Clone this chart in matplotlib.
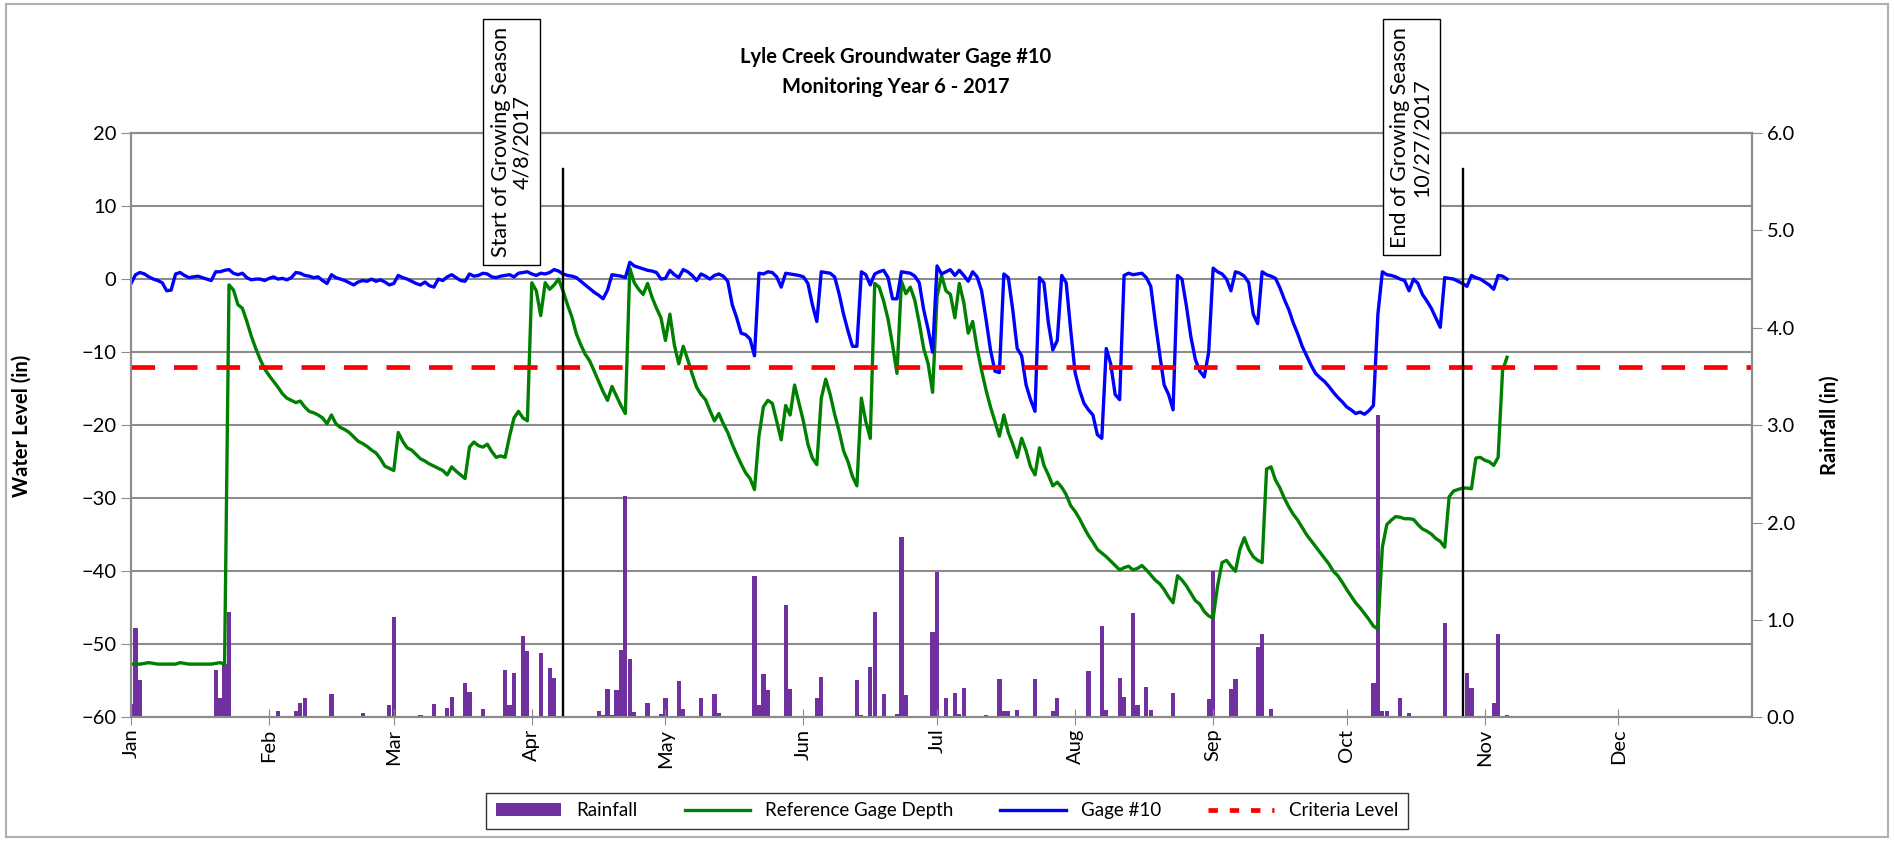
import pandas as pd
import matplotlib
matplotlib.use("Agg")
import matplotlib.pyplot as plt
import matplotlib.dates as mdates
from matplotlib.patches import Patch, Rectangle
from matplotlib.lines import Line2D

plt.rcParams['font.family'] = ['Lato', 'DejaVu Sans']

# daily readings starting 1 Jan 2017 (inches)
start = '2017-01-01'
ref_depth = [
    -52.7, -52.7, -52.7, -52.6, -52.5, -52.6, -52.7, -52.7, -52.7, -52.7,
    -52.7, -52.5, -52.6, -52.7, -52.7, -52.7, -52.7, -52.7, -52.7, -52.6,
    -52.5, -52.7, -0.8, -1.5, -3.5, -4.0, -5.8, -7.8, -9.5, -11.0,
    -12.3, -13.2, -14.0, -14.8, -15.7, -16.3, -16.6, -16.9, -16.7, -17.5,
    -18.1, -18.3, -18.6, -19.0, -19.8, -18.6, -19.8, -20.3, -20.6, -21.0,
    -21.6, -22.2, -22.5, -22.9, -23.4, -23.8, -24.6, -25.6, -25.9, -26.2,
    -21.0, -22.2, -23.1, -23.4, -24.0, -24.6, -24.9, -25.3, -25.6, -25.9,
    -26.2, -26.8, -25.7, -26.3, -26.8, -27.3, -23.0, -22.3, -22.8, -23.0,
    -22.6, -23.6, -24.4, -24.2, -24.4, -21.5, -19.0, -18.1, -19.0, -19.4,
    -0.5, -1.6, -5.0, -0.5, -1.4, -0.8, 0.0, -1.6, -3.5, -5.2,
    -7.5, -9.0, -10.3, -11.2, -12.6, -14.0, -15.4, -16.6, -14.7, -16.0,
    -17.3, -18.4, 1.5, -0.5, -1.4, -2.1, -0.6, -2.5, -4.0, -5.3,
    -8.4, -4.8, -9.0, -11.6, -9.2, -11.0, -13.0, -14.8, -15.8, -16.5,
    -18.0, -19.4, -18.4, -19.8, -21.0, -22.6, -24.0, -25.3, -26.5, -27.3,
    -28.8, -21.5, -17.5, -16.6, -17.0, -19.5, -22.0, -17.3, -18.6, -14.5,
    -17.0, -19.5, -22.6, -24.5, -25.4, -16.3, -13.7, -15.8, -18.5, -20.8,
    -23.5, -25.0, -27.0, -28.3, -16.3, -19.5, -21.8, -0.6, -1.1, -3.0,
    -5.5, -9.0, -12.9, -0.3, -2.0, -1.1, -2.9, -6.0, -9.5, -11.6,
    -15.5, -2.4, 0.5, -1.6, -2.1, -5.3, -0.6, -3.2, -7.4, -5.8,
    -9.5, -12.5, -15.2, -17.5, -19.5, -21.5, -18.6, -21.0, -22.6, -24.4,
    -21.8, -23.5, -25.7, -26.8, -23.1, -25.5, -26.8, -28.3, -27.8, -28.5,
    -29.5, -31.0, -31.8, -32.8, -34.0, -35.1, -36.0, -37.0, -37.5, -38.0,
    -38.6, -39.2, -39.8, -39.5, -39.3, -39.8, -39.6, -39.2, -39.8, -40.5,
    -41.2, -41.7, -42.5, -43.5, -44.3, -40.6, -41.2, -42.0, -43.0, -44.0,
    -44.5, -45.5, -46.1, -46.4, -42.0, -38.8, -38.5, -39.3, -40.0, -37.0,
    -35.4, -37.0, -38.0, -38.5, -38.8, -26.0, -25.7, -27.5, -28.6, -30.0,
    -31.2, -32.2, -33.0, -34.0, -35.0, -35.8, -36.6, -37.4, -38.2, -39.0,
    -40.0, -40.6, -41.5, -42.5, -43.4, -44.3, -45.0, -45.8, -46.6, -47.5,
    -47.9, -36.7, -33.6, -33.0, -32.5, -32.6, -32.8, -32.8, -32.9, -33.6,
    -34.2, -34.5, -34.9, -35.5, -35.9, -36.7, -29.8, -29.0, -28.8, -28.6,
    -28.6, -28.7, -24.5, -24.4, -24.8, -25.0, -25.5, -24.4, -12.5, -10.7,
]
gage10 = [
    -0.6, 0.6, 0.9, 0.7, 0.3, 0.0, -0.2, -0.5, -1.6, -1.5,
    0.7, 0.9, 0.5, 0.2, 0.3, 0.4, 0.2, 0.0, -0.2, 1.0,
    1.0, 1.2, 1.3, 0.8, 0.6, 0.8, 0.2, -0.1, 0.0, 0.0,
    -0.2, 0.1, 0.3, 0.0, 0.1, -0.1, 0.2, 0.9, 0.8, 0.5,
    0.4, 0.2, 0.3, -0.2, -0.6, 0.6, 0.2, 0.0, -0.2, -0.5,
    -0.8, -0.4, -0.2, -0.3, 0.0, -0.3, -0.1, -0.4, -0.8, -0.6,
    0.5, 0.2, 0.0, -0.3, -0.6, -0.8, -0.4, -0.9, -1.1, 0.0,
    -0.2, 0.3, 0.6, 0.2, -0.2, -0.3, 0.7, 0.4, 0.5, 0.8,
    0.7, 0.3, 0.2, 0.4, 0.5, 0.6, 0.3, 0.8, 0.9, 1.0,
    0.7, 0.5, 0.8, 0.7, 0.9, 1.3, 1.1, 0.7, 0.5, 0.4,
    0.2, -0.3, -0.8, -1.3, -1.8, -2.2, -2.7, -1.5, 0.6, 0.5,
    0.4, 0.2, 2.3, 1.8, 1.6, 1.4, 1.2, 1.1, 0.9, 0.0,
    0.1, 1.2, 0.6, 0.2, 1.3, 1.0, 0.5, -0.2, 0.7, 0.4,
    0.0, 0.5, 0.7, 0.4, -0.3, -3.5, -5.3, -7.4, -7.6, -8.2,
    -10.5, 0.8, 0.7, 1.0, 0.9, 0.3, -1.1, 0.8, 0.7, 0.6,
    0.5, 0.3, -0.6, -3.5, -5.8, 1.0, 0.9, 0.8, 0.3, -2.0,
    -4.8, -7.1, -9.2, -9.2, 1.0, 0.6, -0.8, 0.7, 1.0, 1.2,
    0.2, -2.7, -2.7, 1.0, 0.9, 0.8, 0.4, -0.5, -4.2, -6.9,
    -10.0, 1.8, 0.7, 1.0, 1.3, 0.5, 1.2, 0.5, -0.3, 1.0,
    0.3, -1.6, -5.5, -9.7, -12.6, -12.8, 0.7, 0.2, -4.2, -9.5,
    -10.5, -14.5, -16.5, -18.1, 0.2, -0.5, -6.0, -9.7, -8.4, 0.5,
    -0.5, -6.9, -12.8, -15.2, -17.0, -17.9, -18.6, -21.3, -21.8, -9.5,
    -11.6, -15.8, -16.5, 0.5, 0.8, 0.6, 0.7, 0.8, 0.2, -1.0,
    -5.8, -10.3, -14.5, -15.8, -17.9, 0.5, 0.0, -3.7, -7.9, -11.0,
    -12.6, -13.4, -10.0, 1.5, 1.0, 0.7, 0.0, -1.6, 1.0, 0.8,
    0.4, -0.5, -4.8, -6.1, 1.0, 0.6, 0.4, 0.1, -1.2, -2.8,
    -4.2, -6.0, -7.5, -9.2, -10.5, -11.8, -12.9, -13.5, -14.0, -14.7,
    -15.5, -16.2, -16.8, -17.5, -17.9, -18.4, -18.2, -18.5, -18.0, -17.3,
    -4.8, 1.0, 0.6, 0.5, 0.3, 0.0, -0.2, -1.6, 0.0, -0.6,
    -2.1, -3.0, -4.0, -5.3, -6.6, 0.2, 0.1, 0.0, -0.3, -0.6,
    -1.0, 0.5, 0.2, 0.0, -0.4, -0.8, -1.4, 0.5, 0.4, 0.0,
]
# rainfall: day index from 1 Jan and depth (in)
rain_day = [0, 1, 2, 14, 19, 20, 21, 22, 33, 37, 38, 39, 45, 52, 58, 59, 65,
            68, 71, 72, 75, 76, 78, 79, 84, 85, 86, 88, 89, 92, 94, 95, 105,
            106, 107, 108, 109, 110, 111, 112, 113, 116, 119, 120, 123, 124,
            128, 131, 132, 140, 141, 142, 143, 147, 148, 149, 154, 155, 163,
            164, 166, 167, 169, 172, 173, 174, 180, 181, 183, 184, 185, 186,
            187, 192, 195, 196, 197, 199, 200, 203, 206, 207, 208, 215, 218,
            219, 222, 223, 225, 226, 228, 229, 234, 242, 243, 244, 247, 248,
            253, 254, 256, 270, 279, 280, 281, 282, 285, 287, 295, 300, 301,
            306, 307, 309]
rain_in = [0.14, 0.92, 0.38, 0.02, 0.49, 0.2, 0.55, 1.08, 0.07, 0.07, 0.15,
           0.2, 0.24, 0.05, 0.13, 1.03, 0.03, 0.14, 0.1, 0.21, 0.35, 0.26,
           0.02, 0.09, 0.49, 0.13, 0.46, 0.84, 0.68, 0.66, 0.51, 0.41, 0.07,
           0.03, 0.29, 0.03, 0.28, 0.69, 2.27, 0.6, 0.06, 0.15, 0.04, 0.2,
           0.37, 0.09, 0.2, 0.24, 0.05, 1.45, 0.13, 0.45, 0.28, 1.15, 0.29,
           0.02, 0.2, 0.42, 0.38, 0.03, 0.52, 1.08, 0.24, 0.04, 1.85, 0.23,
           0.88, 1.49, 0.2, 0.02, 0.25, 0.04, 0.3, 0.03, 0.39, 0.07, 0.07,
           0.08, 0.02, 0.39, 0.02, 0.07, 0.2, 0.48, 0.94, 0.08, 0.4, 0.21,
           1.07, 0.13, 0.31, 0.08, 0.25, 0.19, 1.5, 0.02, 0.29, 0.39, 0.72,
           0.86, 0.09, 0.02, 0.35, 3.1, 0.07, 0.07, 0.2, 0.05, 0.97, 0.46,
           0.3, 0.15, 0.86, 0.03]
criteria = -12
season_start = '2017-04-08'
season_end = '2017-10-27'
level_ticks = [20, 10, 0, -10, -20, -30, -40, -50, -60]
rain_ticks = [0, 1, 2, 3, 4, 5, 6]

dates = pd.date_range(start, periods=len(ref_depth), freq='D')
rain_dates = pd.Timestamp(start) + pd.to_timedelta(rain_day, unit='D')

grey = '#8c8c8c'
fig = plt.figure(figsize=(18.94, 8.41), dpi=100)
ax = fig.add_axes([0.0692, 0.1469, 0.8558, 0.695])
ax2 = ax.twinx()
ax.set_zorder(ax2.get_zorder() + 1)
ax.patch.set_visible(False)

# gridlines sit under the rain bars
for v in level_ticks:
    ax2.plot([0, 1], [v, v], transform=ax.get_yaxis_transform(),
             color=grey, lw=1.5, zorder=1)
ax2.bar(rain_dates, rain_in, width=0.95, color='#7030A0', zorder=2)

ax.plot(dates, ref_depth, color='#008000', lw=2.4)
ax.plot(dates, gage10, color='#0000FF', lw=2.4)
ax.axhline(criteria, color='#FF0000', lw=3.4, dashes=(5, 4))
for d in [season_start, season_end]:
    ax.plot([pd.Timestamp(d)] * 2, [-60, 15], color='black', lw=1.7)

box = dict(boxstyle='square,pad=0.35', fc='white', ec='black', lw=1)
ax.text(pd.Timestamp('2017-03-27 12:00'), 34.5, 'Start of Growing Season\n4/8/2017',
        rotation=90, ha='center', va='top', fontsize=15.5, multialignment='center',
        linespacing=1.1, bbox=box, clip_on=False)
ax.text(pd.Timestamp('2017-10-15 12:00'), 34.5, 'End of Growing Season\n10/27/2017',
        rotation=90, ha='center', va='top', fontsize=15.5, multialignment='center',
        linespacing=1.1, bbox=box, clip_on=False)

ax.set_xlim(pd.Timestamp('2017-01-01'), pd.Timestamp('2017-12-31'))
ax.set_ylim(-60, 20)
ax2.set_ylim(0, 6)
ax.set_yticks(level_ticks)
ax2.set_yticks(rain_ticks)
ax2.yaxis.set_major_formatter('{x:.1f}')
ax.xaxis.set_major_locator(mdates.MonthLocator())
ax.xaxis.set_major_formatter(mdates.DateFormatter('%b'))
ax.tick_params(axis='x', direction='inout', length=12, color=grey, labelsize=14.5,
               labelrotation=90, pad=2)
ax.tick_params(axis='y', direction='out', length=7, color=grey, labelsize=14.5)
ax2.tick_params(axis='y', direction='out', length=7, color=grey, labelsize=14.5)
for a in (ax, ax2):
    for s in a.spines.values():
        s.set_color(grey)
        s.set_linewidth(1.5)

fig.text(0.473, 0.932, 'Lyle Creek Groundwater Gage #10', ha='center', va='center',
         fontsize=14.5, fontweight='bold')
fig.text(0.473, 0.897, 'Monitoring Year 6 - 2017', ha='center', va='center',
         fontsize=14.5, fontweight='bold')
fig.text(0.0116, 0.494, 'Water Level (in)', rotation=90, ha='center', va='center',
         fontsize=14.5, fontweight='bold')
fig.text(0.966, 0.494, 'Rainfall (in)', rotation=90, ha='center', va='center',
         fontsize=14.5, fontweight='bold')

handles = [Patch(fc='#7030A0'),
           Line2D([], [], color='#008000', lw=2.4),
           Line2D([], [], color='#0000FF', lw=2.4),
           Line2D([], [], color='#FF0000', lw=3.4, dashes=(2, 2.5))]
labels = ['Rainfall', 'Reference Gage Depth', 'Gage #10', 'Criteria Level']
fig.legend(handles, labels, loc='center', bbox_to_anchor=(0.5, 0.0357), ncol=4,
           frameon=True, fancybox=False, edgecolor='black', fontsize=13.5,
           handlelength=3.5, columnspacing=2.5, borderpad=0.5)

fig.add_artist(Rectangle((0.003, 0.005), 0.994, 0.99, transform=fig.transFigure,
                         fill=False, ec='#b0b0b0', lw=1.5))

fig.savefig('out.png', dpi=100)
